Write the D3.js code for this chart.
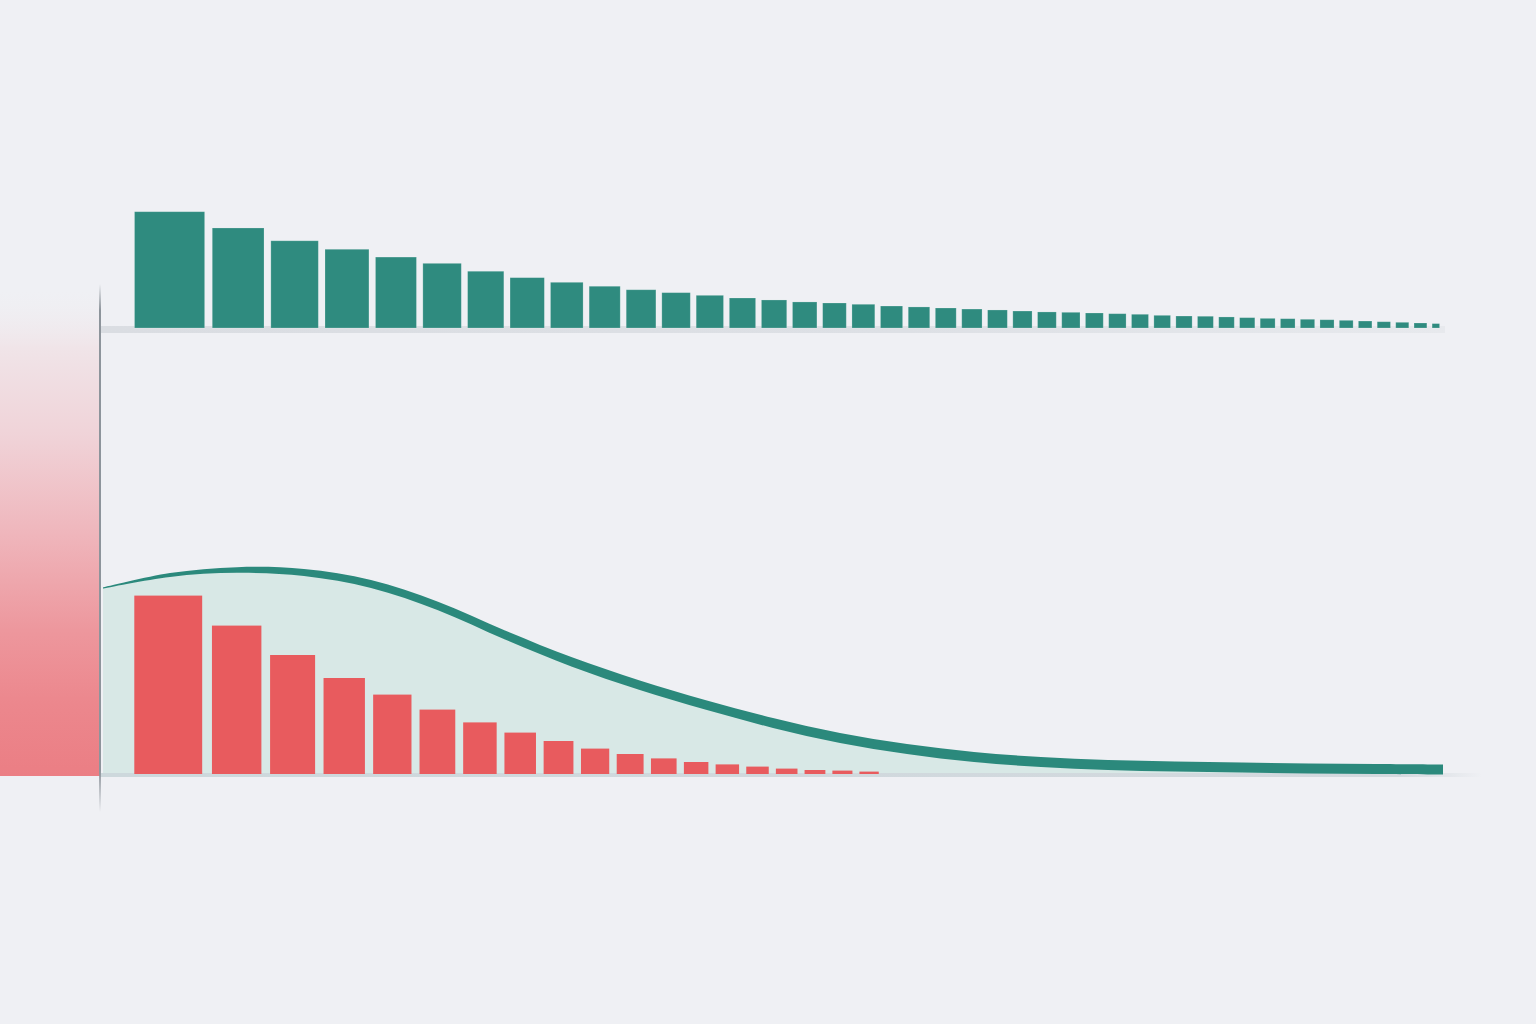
<!DOCTYPE html>
<html>
<head>
<meta charset="utf-8">
<script src="https://cdn.jsdelivr.net/npm/d3@7"></script>
<style>
  html, body { margin: 0; padding: 0; background: #eff0f4; }
  svg { display: block; }
</style>
</head>
<body>
<svg class="chart" width="1536" height="1024"></svg>
<script>
// upper histogram: bin edges and heights
const topEdges = [5.8, 7, 8, 9, 10, 11, 12, 13, 14, 15, 16, 17, 18, 19, 20, 21, 22, 23, 24, 25,
                  26, 27, 28, 29, 30, 31, 32, 33, 34, 35, 36, 37, 38, 39, 40, 41, 42, 43, 44, 45,
                  46, 47, 48, 49, 49.7];
const topValues = [100, 86, 75, 67.7, 61, 55.6, 48.8, 43.3, 39.3, 35.9,
                   32.9, 30.4, 28.1, 25.8, 24.1, 22.4, 21.5, 20.4, 18.9, 18.1,
                   17.2, 16.3, 15.5, 14.6, 13.8, 13.5, 12.9, 12.3, 11.8, 10.9,
                   10.3, 10.1, 9.5, 8.9, 8.3, 8.0, 7.5, 7.1, 6.6, 6.0,
                   5.4, 4.9, 4.3, 3.8];

// lower histogram
const bottomEdges = [5.8, 7, 8, 9, 10, 11, 12, 13, 14, 15, 16, 17, 18, 19, 20, 21, 22, 23, 24, 25];
const bottomValues = [89.2, 74.2, 59.5, 48, 39.7, 32.2, 25.8, 20.7, 16.5, 12.7,
                      10, 7.8, 6, 4.8, 3.7, 2.7, 2, 1.7, 1.2];

// smooth curve over the lower panel
const curvePos = [0, 5, 10, 15, 20, 25, 30, 35, 40, 45, 50, 55, 60, 65, 70, 75, 80, 85, 90, 95, 100];
const curveValues = [93, 99.5, 102, 100.75, 95, 84, 69.5, 56, 44.5, 34.5,
                     25.5, 18, 12.5, 8.5, 6, 4.5, 3.75, 3.25, 2.75, 2.5, 2.25];

const TEAL = '#2f8b7f',
      RED = '#e85b5e',
      FILL = '#d8e8e6';

const svg = d3.select('.chart');
const defs = svg.append('defs');

let side = defs.append('linearGradient').attr('id', 'side')
    .attr('gradientUnits', 'userSpaceOnUse')
    .attr('x1', 0).attr('y1', 290).attr('x2', 0).attr('y2', 776);
[[0, '#f0eef2', 0], [0.12, '#f0e4e8', 1], [0.3, '#f0d3d8', 1], [0.5, '#efb6bc', 1],
 [0.7, '#ed979d', 1], [0.85, '#ec878d', 1], [1, '#eb7e84', 1]].forEach(s => {
    side.append('stop').attr('offset', s[0]).attr('stop-color', s[1]).attr('stop-opacity', s[2]);
});

let axisG = defs.append('linearGradient').attr('id', 'axisG')
    .attr('gradientUnits', 'userSpaceOnUse')
    .attr('x1', 0).attr('y1', 284).attr('x2', 0).attr('y2', 812);
[[0, 0], [0.05, 1], [0.92, 1], [1, 0]].forEach(s => {
    axisG.append('stop').attr('offset', s[0]).attr('stop-color', '#8d949b').attr('stop-opacity', s[1]);
});

let topBand = defs.append('linearGradient').attr('id', 'topBand')
    .attr('gradientUnits', 'userSpaceOnUse')
    .attr('x1', 100).attr('y1', 0).attr('x2', 1445).attr('y2', 0);
topBand.append('stop').attr('offset', 0).attr('stop-color', '#dadde2');
topBand.append('stop').attr('offset', 0.6).attr('stop-color', '#dde0e5');
topBand.append('stop').attr('offset', 1).attr('stop-color', '#e7e9ed');

let botBand = defs.append('linearGradient').attr('id', 'botBand')
    .attr('gradientUnits', 'userSpaceOnUse')
    .attr('x1', 100).attr('y1', 0).attr('x2', 1482).attr('y2', 0);
botBand.append('stop').attr('offset', 0).attr('stop-color', '#cdd8dc');
botBand.append('stop').attr('offset', 0.94).attr('stop-color', '#d3d9de');
botBand.append('stop').attr('offset', 1).attr('stop-color', '#d3d9de').attr('stop-opacity', 0);

svg.append('rect')
    .attr('width', 1536).attr('height', 1024)
    .attr('fill', '#eff0f4');

// scales
const xTop = d3.scalePow().exponent(0.37).domain([5.8, 49]).range([134.5, 1432.1]);
const yTop = d3.scaleLinear().domain([0, 100]).range([328, 211.7]);
const xBot = d3.scalePow().exponent(0.33).domain([5.8, 25]).range([134.3, 885.7]);
const yBot = d3.scaleLinear().domain([0, 100]).range([774, 574]);
const xCurve = d3.scaleLinear().domain([0, 100]).range([103, 1443]);

// left shaded block
svg.append('rect')
    .attr('x', 0).attr('y', 290)
    .attr('width', 100).attr('height', yBot(0) + 2 - 290)
    .attr('fill', 'url(#side)');

// upper panel
svg.append('rect')
    .attr('x', 100).attr('y', yTop(0) - 2)
    .attr('width', 1345).attr('height', 7)
    .attr('fill', 'url(#topBand)');

svg.append('g')
    .selectAll('rect')
    .data(topValues)
    .enter()
    .append('rect')
    .attr('x', (d, i) => xTop(topEdges[i]))
    .attr('y', d => yTop(d))
    .attr('width', (d, i) => {
        let w = xTop(topEdges[i + 1]) - xTop(topEdges[i]);
        return w - (4.5 + 0.04 * w);
    })
    .attr('height', d => yTop(0) - yTop(d))
    .attr('fill', TEAL)
    .attr('stroke', 'rgba(255,255,255,0.25)')
    .attr('stroke-width', 0.8);

// lower panel
let curveData = curvePos.map((p, i) => ({ p: p, v: curveValues[i] }));
const smooth = d3.curveCatmullRom.alpha(0.5);

svg.append('path')
    .datum(curveData)
    .attr('d', d3.area()
        .x(d => xCurve(d.p))
        .y0(yBot(0))
        .y1(d => yBot(d.v))
        .curve(smooth))
    .attr('fill', FILL);

svg.append('rect')
    .attr('x', 100).attr('y', yBot(0) - 1)
    .attr('width', 1382).attr('height', 4)
    .attr('fill', 'url(#botBand)');

svg.append('g')
    .selectAll('rect')
    .data(bottomValues)
    .enter()
    .append('rect')
    .attr('x', (d, i) => xBot(bottomEdges[i]))
    .attr('y', d => yBot(d))
    .attr('width', (d, i) => {
        let w = xBot(bottomEdges[i + 1]) - xBot(bottomEdges[i]);
        return w - (5.5 + 0.055 * w);
    })
    .attr('height', d => yBot(0) - yBot(d))
    .attr('fill', RED);

// tapered stroke on the curve
const thick = d => {
    let px = xCurve(d.p) - xCurve(0);
    return 1 + 9 * (1 - Math.exp(-px / 180));
};

svg.append('path')
    .datum(curveData)
    .attr('d', d3.area()
        .x(d => xCurve(d.p))
        .y0(d => yBot(d.v) - thick(d) / 2)
        .y1(d => yBot(d.v) + thick(d) / 2)
        .curve(smooth))
    .attr('fill', '#2b897c');

// vertical axis
svg.append('rect')
    .attr('x', 99).attr('y', 284)
    .attr('width', 2).attr('height', 528)
    .attr('fill', 'url(#axisG)');
</script>
</body>
</html>
